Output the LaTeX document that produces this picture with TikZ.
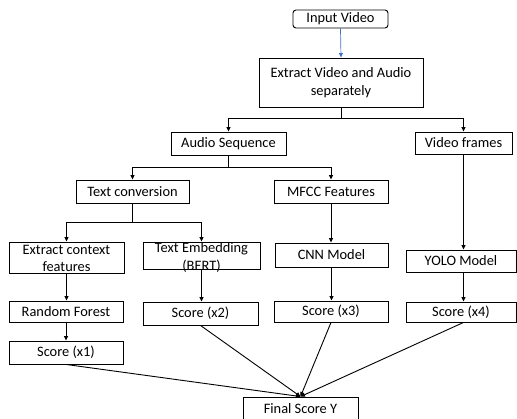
\documentclass[tikz,border=0pt]{standalone}
\usepackage{fontspec}
\setmainfont{Carlito}
\usetikzlibrary{arrows.meta}
\definecolor{linkblue}{RGB}{68,114,196}
\begin{document}
\begin{tikzpicture}[x=1pt,y=-1pt,
  every node/.style={font=\fontsize{14.4}{17.6}\selectfont},
  box/.style 2 args={draw=black, line width=0.9pt, inner sep=0pt, minimum width=#1pt, minimum height=#2pt, align=center},
  lbl/.style={inner sep=0pt, align=center},
  conn/.style={draw=black, line width=0.9pt},
  arr/.style={conn, -{Triangle[length=4.5pt,width=4pt]}}]
\useasboundingbox (0,0) rectangle (517,418);
% nodes
\node[box={95}{18}, rounded corners=3pt] (inp) at (340.5,19) {Input Video};
\node[box={164}{49}] (ext) at (341,82.5) {Extract Video and Audio\\separately};
\node[box={115}{23}] (aud) at (228.5,143.5) {Audio Sequence};
\node[box={97}{22}] (vid) at (463.5,143) {Video frames};
\node[box={113}{23}] (txt) at (132.5,191.5) {Text conversion};
\node[box={114}{23}] (mfcc) at (331,191.5) {MFCC Features};
\node[box={115}{31}] (ecf) at (66.5,257.5) {};
\node[lbl] (ecft) at (66.5,258.5) {Extract context\\features};
\node[box={117}{27}] (bert) at (201.5,255.5) {};
\node[lbl] (bertt) at (201.5,257.5) {Text Embedding\\(BERT)};
\node[box={113}{24}] (cnn) at (331.5,255) {CNN Model};
\node[box={110}{22}] (yolo) at (461,261) {YOLO Model};
\node[box={114}{21}] (rf) at (66,311.5) {Random Forest};
\node[box={115}{23}] (s2) at (200.5,313.5) {Score (x2)};
\node[box={114}{21}] (s3) at (331,311.5) {Score (x3)};
\node[box={110}{20}] (s4) at (461,312) {Score (x4)};
\node[box={114}{23}] (s1) at (66,352.5) {Score (x1)};
\node[box={115}{23}] (fin) at (300.5,408.5) {Final Score Y};
% junctions
\coordinate (j1) at (341,118);
\coordinate (j2) at (228.5,167);
\coordinate (j3) at (132.5,222);
% connectors
\draw[line width=0.7pt, draw=linkblue, -{Triangle[length=4.5pt,width=4pt]}, color=linkblue] (inp.south) -- (ext.north);
\draw[conn] (ext.south) -- (j1);
\draw[arr] (j1) -| (aud.north);
\draw[arr] (j1) -| (vid.north);
\draw[conn] (aud.south) -- (j2);
\draw[arr] (j2) -| (txt.north);
\draw[arr] (j2) -| (mfcc.north);
\draw[conn] (txt.south) -- (j3);
\draw[arr] (j3) -| (ecf.north);
\draw[arr] (j3) -| (bert.north);
\draw[arr] (ecf.south) -- (ecf.south |- rf.north);
\draw[arr] (rf.south) -- (rf.south |- s1.north);
\draw[arr] (bert.south) -- (bert.south |- s2.north);
\draw[arr] (mfcc.south) -- (mfcc.south |- cnn.north);
\draw[arr] (cnn.south) -- (cnn.south |- s3.north);
\draw[arr] (vid.south) -- (vid.south |- yolo.north);
\draw[arr] (vid.south |- yolo.south) -- (vid.south |- s4.north);
\draw[arr] (s1.south) -- (fin.north);
\draw[arr] (s2.south) -- (fin.north);
\draw[arr] (s3.south) -- (fin.north);
\draw[arr] (vid.south |- s4.south) -- (fin.north);
\end{tikzpicture}
\end{document}
